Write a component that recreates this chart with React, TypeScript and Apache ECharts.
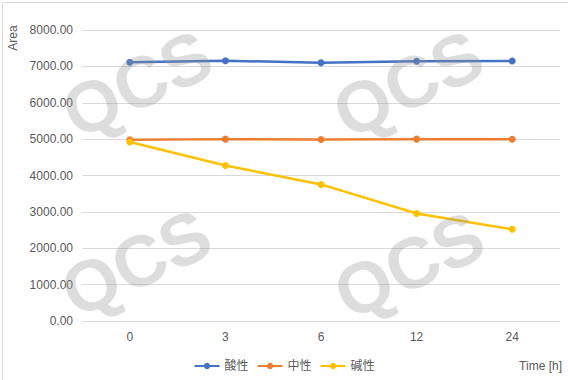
import React, { useEffect, useRef } from "react";
import * as echarts from "echarts";

const categories = ["0", "3", "6", "12", "24"];
const acidic = [7115, 7155, 7100, 7140, 7150];
const neutral = [4985, 5000, 4990, 5000, 4995];
const basic = [4920, 4275, 3755, 2955, 2520];
const seriesNames = ["酸性", "中性", "碱性"];
const yTicksMax = 8000;
const yInterval = 1000;

const watermarks = [
  [137, 84],
  [408, 84],
  [136, 263],
  [409, 265],
];

export default function App() {
  const ref = useRef<HTMLDivElement>(null);
  useEffect(() => {
    if (!ref.current) return;
    const chart = echarts.init(ref.current, undefined, { renderer: "svg" });
    const font = "Arial, 'Liberation Sans', 'Noto Sans CJK SC', sans-serif";
    chart.setOption({
      animation: false,
      backgroundColor: "#ffffff",
      textStyle: { fontFamily: font },
      grid: { left: 82, right: 8, top: 30, bottom: 59, containLabel: false },
      legend: {
        bottom: 3,
        left: "center",
        itemWidth: 25,
        itemHeight: 8,
        itemGap: 8,
        textStyle: { fontSize: 12, color: "#595959", fontFamily: font },
        data: seriesNames,
      },
      xAxis: {
        type: "category",
        data: categories,
        boundaryGap: true,
        axisLine: { show: false },
        axisTick: { show: false },
        axisLabel: { color: "#595959", fontSize: 12, margin: 10, fontFamily: font },
        splitLine: { show: false },
      },
      yAxis: {
        type: "value",
        min: 0,
        max: yTicksMax,
        interval: yInterval,
        axisLine: { show: false },
        axisTick: { show: false },
        axisLabel: {
          color: "#595959",
          fontSize: 12,
          margin: 9,
          fontFamily: font,
          formatter: (v: number) => v.toFixed(2),
        },
        splitLine: { lineStyle: { color: "#d9d9d9", width: 1 } },
      },
      series: [
        { name: seriesNames[0], data: acidic, color: "#4472C4" },
        { name: seriesNames[1], data: neutral, color: "#ED7D31" },
        { name: seriesNames[2], data: basic, color: "#FFC000" },
      ].map((s) => ({
        type: "line",
        name: s.name,
        data: s.data,
        symbol: "circle",
        symbolSize: 7,
        lineStyle: { width: 2.5, color: s.color },
        itemStyle: { color: s.color },
      })),
      graphic: [
        {
          type: "rect",
          left: 0,
          top: 0,
          shape: { width: 567, height: 379 },
          style: { fill: "none", stroke: "#d9d9d9", lineWidth: 1 },
          silent: true,
          z: -1,
        },
        {
          type: "text",
          x: 13,
          y: 38,
          rotation: Math.PI / 2,
          style: {
            text: "Area",
            fill: "#595959",
            font: `12px ${font}`,
            textAlign: "center",
            textVerticalAlign: "middle",
          },
        },
        {
          type: "text",
          x: 562,
          y: 366,
          style: {
            text: "Time [h]",
            fill: "#595959",
            font: `12px ${font}`,
            textAlign: "right",
            textVerticalAlign: "middle",
          },
        },
        ...watermarks.map(([x, y]) => ({
          type: "text",
          x,
          y,
          rotation: 0.45,
          silent: true,
          z: 100,
          style: {
            text: "QCS",
            fill: "rgba(150,150,150,0.32)",
            font: `bold 72px ${font}`,
            textAlign: "center",
            textVerticalAlign: "middle",
          },
        })),
      ],
    });
    return () => chart.dispose();
  }, []);
  return (
    <div
      ref={ref}
      style={{ position: "fixed", left: 0, top: 0, width: 568, height: 380 }}
    />
  );
}
